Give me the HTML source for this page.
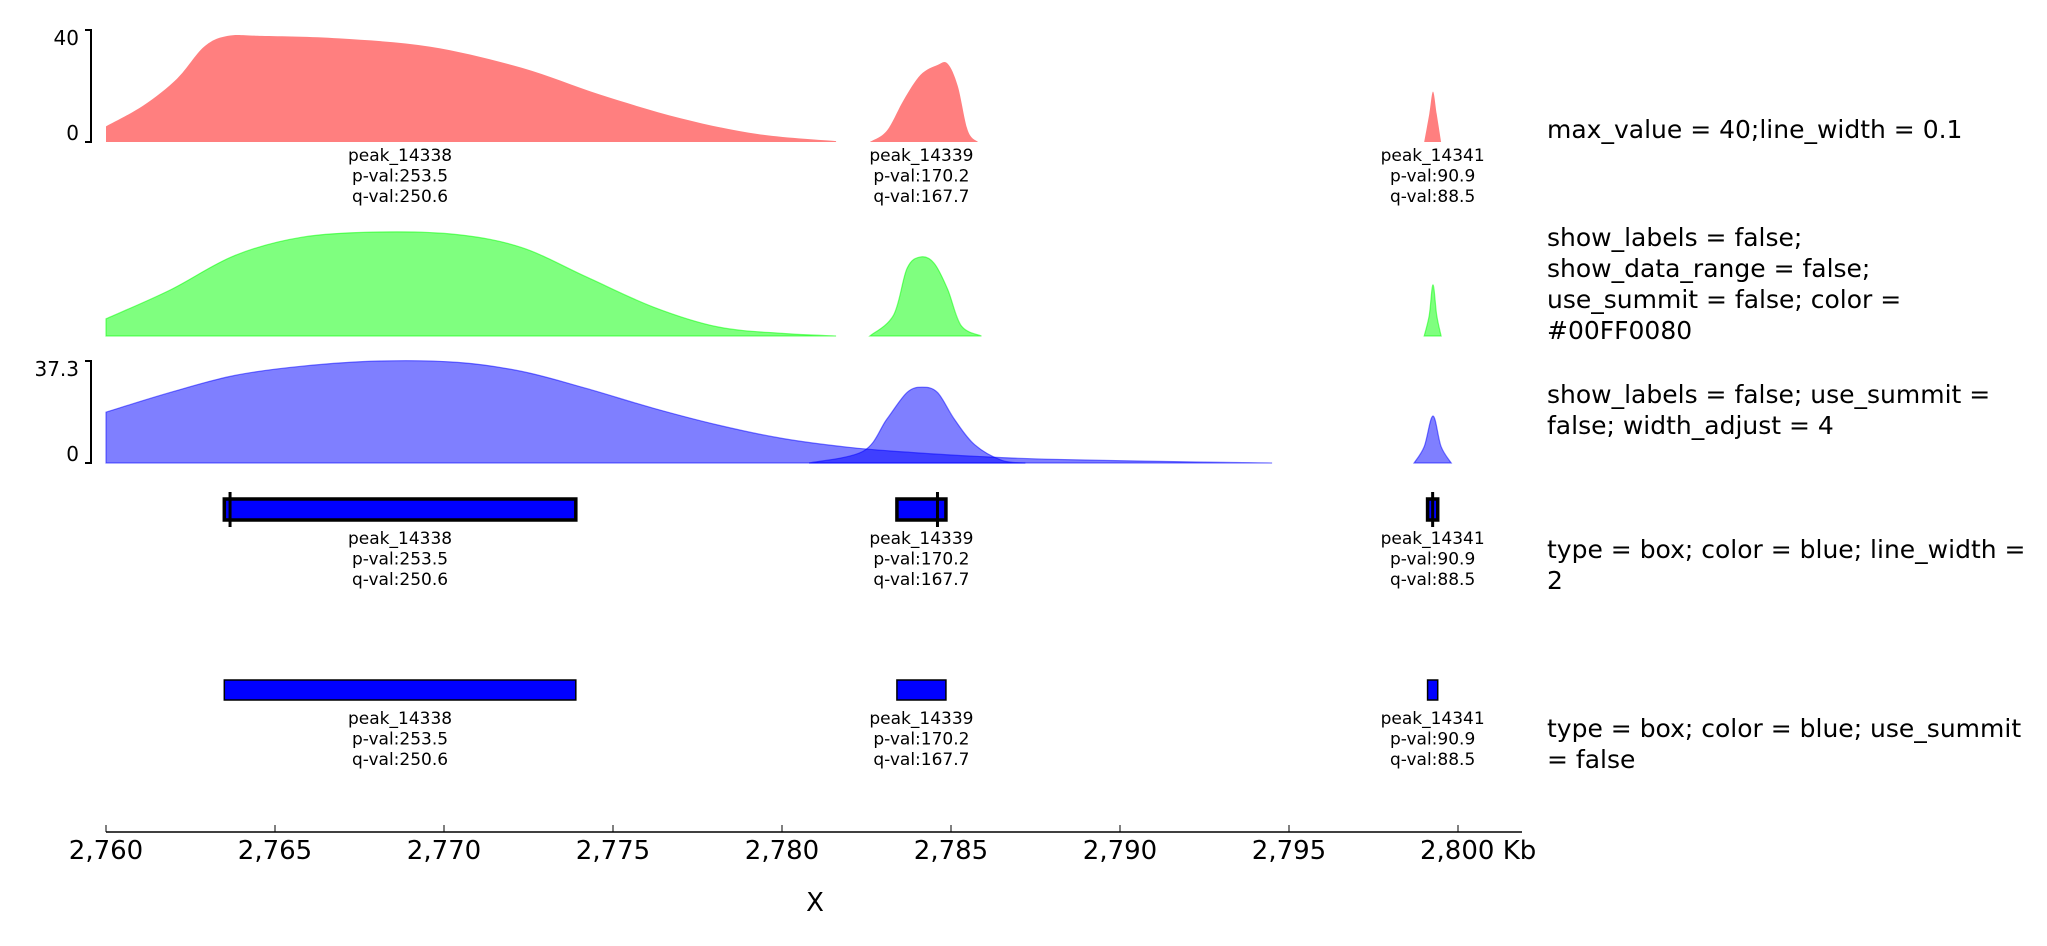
<!DOCTYPE html>
<html><head><meta charset="utf-8">
<style>
html,body{margin:0;padding:0;background:#fff;}
svg{display:block;font-family:"DejaVu Sans","Liberation Sans",sans-serif;}
</style></head>
<body>
<svg id="chart" width="2047" height="946" viewBox="0 0 2047 946" xmlns="http://www.w3.org/2000/svg"></svg>
<script>
// ---- data (kb positions and values) ----
const xTicks = [2760,2765,2770,2775,2780,2785,2790,2795,2800];
const xTickLabels = ["2,760","2,765","2,770","2,775","2,780","2,785","2,790","2,795","2,800 Kb"];
const peakNames = ["peak_14338","peak_14339","peak_14341"];
const peakP = ["p-val:253.5","p-val:170.2","p-val:90.9"];
const peakQ = ["q-val:250.6","q-val:167.7","q-val:88.5"];
const peakStart = [2763.5, 2783.4, 2799.1];
const peakEnd = [2773.9, 2784.85, 2799.4];
const peakSummit = [2763.67, 2784.6, 2799.25];

const redPos1 = [2760,2761.1,2762.1,2762.9,2763.6,2764.6,2766.9,2769.6,2772.3,2774.6,2777,2779.3,2781.6];
const redVal1 = [5.6,13,22.6,34,37.9,37.9,37,34,26.5,17,8.5,2.8,0.3];
const redPos2 = [2782.6,2783.1,2783.6,2784.1,2784.6,2784.9,2785.2,2785.5,2785.8];
const redVal2 = [0,4,15,24,27.5,28,20,4,0];
const redPos3 = [2799.0,2799.15,2799.26,2799.37,2799.5];
const redVal3 = [0,10,18,10,0];

const greenPos1 = [2760,2761.9,2763.8,2765.8,2768.1,2770.4,2772.3,2774.2,2776.2,2778.1,2780,2781.6];
const greenVal1 = [6.6,17.7,30.9,38,40,39,34,22.8,11.1,3.5,1,0];
const greenPos2 = [2782.6,2783.3,2783.7,2784.1,2784.5,2784.9,2785.3,2785.9];
const greenVal2 = [0,8,26,30.4,28,18,4,0];
const greenPos3 = [2799.0,2799.15,2799.26,2799.37,2799.5];
const greenVal3 = [0,8,19.7,8,0];

const bluePos1 = [2760,2761.9,2763.8,2765.8,2768.1,2770.4,2772.3,2774.2,2776.2,2778.1,2780,2782,2783.9,2785.8,2787.8,2791.6,2794.5];
const blueVal1 = [18.6,25.8,32,35.4,37.3,36.8,33.5,27.3,20,13.9,9,5.7,3.8,2.4,1.4,0.5,0];
const bluePos2 = [2780.8,2782.4,2783.1,2783.7,2784.15,2784.6,2785.1,2785.7,2786.5,2787.2];
const blueVal2 = [0,4.3,16,25.8,27.7,25.8,16,6.7,1,0];
const bluePos3 = [2798.7,2799.0,2799.26,2799.5,2799.8];
const blueVal3 = [0,6,17.2,6,0];

const trackDescriptions = [
  ["max_value = 40;line_width = 0.1"],
  ["show_labels = false;","show_data_range = false;","use_summit = false; color =","#00FF0080"],
  ["show_labels = false; use_summit =","false; width_adjust = 4"],
  ["type = box; color = blue; line_width =","2"],
  ["type = box; color = blue; use_summit","= false"]
];

// ---- layout ----
const svg = document.getElementById('chart');
const NS = 'http://www.w3.org/2000/svg';
const X0 = 106, PXKB = 33.8;
function xs(v){ return X0 + (v - 2760) * PXKB; }
function mk(tag, attrs, parent){
  const e = document.createElementNS(NS, tag);
  for (const k in attrs) e.setAttribute(k, attrs[k]);
  (parent || svg).appendChild(e);
  return e;
}
function smoothPath(pts){
  let d = `M${pts[0][0]},${pts[0][1]}`;
  for (let i=0;i<pts.length-1;i++){
    const p0 = pts[i-1]||pts[i], p1=pts[i], p2=pts[i+1], p3=pts[i+2]||p2;
    const c1x=p1[0]+(p2[0]-p0[0])/6, c1y=p1[1]+(p2[1]-p0[1])/6;
    const c2x=p2[0]-(p3[0]-p1[0])/6, c2y=p2[1]-(p3[1]-p1[1])/6;
    d += ` C${c1x},${c1y} ${c2x},${c2y} ${p2[0]},${p2[1]}`;
  }
  return d;
}
function area(pos, val, yBase, yTop, vmax, fill, stroke, name){
  const ys = v => yBase - (v / vmax) * (yBase - yTop);
  const pts = pos.map((p,i)=>[xs(p), ys(val[i])]);
  let d = smoothPath(pts) + ` L${xs(pos[pos.length-1])},${yBase} L${xs(pos[0])},${yBase} Z`;
  const el = mk('path', {d, fill, 'fill-opacity':0.5, stroke, 'stroke-width':1.2, 'stroke-opacity':0.5});
  
  
}
function yBracket(yTop, yBase, topLabel, name){
  const g = mk('g', {});
  
  
  mk('path', {d:`M85,${yTop} H91 V${yBase} H85`, fill:'none', stroke:'#000', 'stroke-width':2}, g);
  const t1 = mk('text', {x:79, y:yTop+15, 'text-anchor':'end', 'font-size':20}, g); t1.textContent = topLabel;
  const t2 = mk('text', {x:79, y:yBase-2, 'text-anchor':'end', 'font-size':20}, g); t2.textContent = '0';
}
function peakLabels(y0, name){
  for (let i=0;i<peakNames.length;i++){
    const cx = xs((peakStart[i]+peakEnd[i])/2);
    const g = mk('g', {'font-size':17, 'text-anchor':'middle'});
    
    
    [peakNames[i], peakP[i], peakQ[i]].forEach((s,j)=>{
      const t = mk('text', {x:cx, y:y0 + j*20.5}, g); t.textContent = s;
    });
  }
}
function boxes(yT, yB, sw, summit, name){
  for (let i=0;i<peakNames.length;i++){
    const r = mk('rect', {x:xs(peakStart[i]), y:yT, width:xs(peakEnd[i])-xs(peakStart[i]), height:yB-yT, fill:'#0000ff', stroke:'#000', 'stroke-width':sw});
    
    
    if (summit){
      const l = mk('line', {x1:xs(peakSummit[i]), x2:xs(peakSummit[i]), y1:yT-7, y2:yB+7, stroke:'#000', 'stroke-width':3});
      
      
    }
  }
}

// Track 1 (red)
yBracket(30, 142, '40', 'track1-y-range');
area(redPos1, redVal1, 142, 30, 40, '#ff0000', 'none', 'track1-red-peak-1');
area(redPos2, redVal2, 142, 30, 40, '#ff0000', 'none', 'track1-red-peak-2');
area(redPos3, redVal3, 142, 30, 40, '#ff0000', 'none', 'track1-red-peak-3');
peakLabels(161, 'track1-label');

// Track 2 (green)
area(greenPos1, greenVal1, 336, 232, 40, '#00ff00', '#00ff00', 'track2-green-peak-1');
area(greenPos2, greenVal2, 336, 232, 40, '#00ff00', '#00ff00', 'track2-green-peak-2');
area(greenPos3, greenVal3, 336, 232, 40, '#00ff00', '#00ff00', 'track2-green-peak-3');

// Track 3 (blue)
yBracket(361, 463, '37.3', 'track3-y-range');
area(bluePos1, blueVal1, 463, 361, 37.3, '#0000ff', '#0000ff', 'track3-blue-peak-1');
area(bluePos2, blueVal2, 463, 361, 37.3, '#0000ff', '#0000ff', 'track3-blue-peak-2');
area(bluePos3, blueVal3, 463, 361, 37.3, '#0000ff', '#0000ff', 'track3-blue-peak-3');

// Track 4 boxes with summit
boxes(499, 520, 3.5, true, 'track4');
peakLabels(544, 'track4-label');

// Track 5 boxes
boxes(680, 700, 1.5, false, 'track5');
peakLabels(724, 'track5-label');

// X axis
const ax = mk('g', {});


mk('line', {x1:xs(2760), x2:1522, y1:832, y2:832, stroke:'#000', 'stroke-width':1.5}, ax);
xTicks.forEach((v,i)=>{
  mk('line', {x1:xs(v), x2:xs(v), y1:825, y2:832, stroke:'#000', 'stroke-width':1}, ax);
  const t = mk('text', {x:xs(v), y:859, 'font-size':26, 'text-anchor': i===xTicks.length-1 ? 'start':'middle', dx: i===xTicks.length-1 ? -38 : 0}, ax);
  t.textContent = xTickLabels[i];
});
const xt = mk('text', {x:815, y:911, 'font-size':26, 'text-anchor':'middle'});


xt.textContent = 'X';

// Track descriptions
const descY = [138, 246, 403, 558, 737];
trackDescriptions.forEach((lines, i)=>{
  const g = mk('g', {'font-size':25});
  
  
  lines.forEach((s,j)=>{
    const t = mk('text', {x:1547, y:descY[i] + j*31}, g); t.textContent = s;
  });
});
</script>
</body></html>
